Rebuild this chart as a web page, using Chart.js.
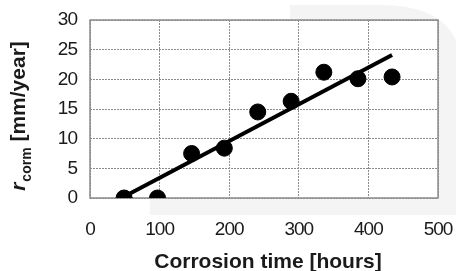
<!DOCTYPE html>
<html>
<head>
<meta charset="utf-8">
<script src="https://cdn.jsdelivr.net/npm/chart.js@4.4.1/dist/chart.umd.min.js"></script>
<style>
  html, body { margin: 0; padding: 0; background: #fff; }
  #wrap { width: 456px; height: 271px; }
</style>
</head>
<body>
<div id="wrap"><canvas id="corrChart"></canvas></div>
<script>
// measured points
const timeHours = [49, 97, 146, 193, 241, 289, 336, 385, 434];
const corrRate = [0, 0, 7.5, 8.4, 14.5, 16.3, 21.2, 20.1, 20.4];

// fitted trend line (end points)
const trendTime = [50, 434];
const trendRate = [0.3, 24.1];

const xTicks = [0, 100, 200, 300, 400, 500];
const yTicks = [0, 5, 10, 15, 20, 25, 30];

const xTitle = "Corrosion time [hours]";

const FONT = "'Liberation Sans', Arial, sans-serif";

// ==========================
// background, frame, titles
// ==========================

const backdropPlugin = {
    id: "backdrop",
    beforeDraw(chart) {
        const { ctx, chartArea: a } = chart;
        ctx.save();
        // faint watermark behind the figure
        ctx.fillStyle = "#f4f4f4";
        ctx.beginPath();
        ctx.moveTo(150, 215);
        ctx.lineTo(456, 215);
        ctx.lineTo(456, 40);
        ctx.quadraticCurveTo(440, 5, 380, 5);
        ctx.lineTo(290, 5);
        ctx.lineTo(290, 20);
        ctx.lineTo(150, 20);
        ctx.closePath();
        ctx.fill();
        ctx.fillStyle = "#fff";
        ctx.fillRect(a.left, a.top, a.width, a.height);
        ctx.restore();
        // slightly tighter digits for the tick labels
        ctx.letterSpacing = "-1px";
    },
    beforeDatasetsDraw(chart) {
        const { ctx, chartArea: a } = chart;
        ctx.letterSpacing = "0px";
        ctx.save();
        ctx.strokeStyle = "#8c8c8c";
        ctx.lineWidth = 1.5;
        ctx.strokeRect(a.left, a.top, a.width, a.height);
        ctx.restore();
    }
};

const titlesPlugin = {
    id: "titles",
    afterDraw(chart) {
        const ctx = chart.ctx;
        const big = "bold 21px " + FONT;
        const bigIt = "italic bold 21px " + FONT;
        const small = "bold 14px " + FONT;
        ctx.save();
        ctx.letterSpacing = "0px";
        ctx.fillStyle = "#1a1a1a";
        ctx.textBaseline = "alphabetic";

        // x title
        ctx.font = big;
        ctx.textAlign = "center";
        ctx.fillText(xTitle, 268, 268);

        // y title with subscript
        ctx.textAlign = "left";
        ctx.translate(25, 116);
        ctx.rotate(-Math.PI / 2);
        ctx.font = bigIt;
        const w1 = ctx.measureText("r").width + 1;
        ctx.font = small;
        const w2 = ctx.measureText("corm").width;
        ctx.font = big;
        const w3 = ctx.measureText(" [mm/year]").width;
        let x = -(w1 + w2 + w3) / 2;
        ctx.font = bigIt;
        ctx.fillText("r", x, 0);
        x += w1;
        ctx.font = small;
        ctx.fillText("corm", x, 6);
        x += w2;
        ctx.font = big;
        ctx.fillText(" [mm/year]", x, 0);
        ctx.restore();
    }
};

new Chart(document.getElementById("corrChart"), {
    type: "scatter",
    data: {
        datasets: [
            {
                label: "measured",
                data: timeHours.map((t, i) => ({ x: t, y: corrRate[i] })),
                backgroundColor: "#000",
                borderColor: "#000",
                pointRadius: 8,
                pointHoverRadius: 8,
                showLine: false,
                order: 1
            },
            {
                label: "trend",
                data: trendTime.map((t, i) => ({ x: t, y: trendRate[i] })),
                borderColor: "#000",
                borderWidth: 4,
                pointRadius: 0,
                showLine: true,
                order: 2
            }
        ]
    },
    options: {
        responsive: true,
        maintainAspectRatio: false,
        animation: false,
        layout: { padding: { top: 20, right: 18, left: 0, bottom: 0 } },
        plugins: {
            legend: { display: false },
            tooltip: { enabled: false }
        },
        scales: {
            x: {
                type: "linear",
                min: 0,
                max: 500,
                afterBuildTicks: axis => { axis.ticks = xTicks.map(v => ({ value: v })); },
                afterFit: s => {
                    s.height = 73;
                    s.paddingLeft = 0;
                    s.paddingRight = 0;
                },
                grid: { color: "#8c8c8c", lineWidth: 1, drawTicks: false },
                border: { display: false, dash: [2, 1] },
                ticks: { font: { family: FONT, size: 19 }, color: "#1a1a1a", padding: 20, maxRotation: 0 }
            },
            y: {
                min: 0,
                max: 30,
                afterBuildTicks: axis => { axis.ticks = yTicks.map(v => ({ value: v })); },
                afterFit: s => {
                    s.width = 90;
                    s.paddingTop = 0;
                    s.paddingBottom = 0;
                },
                grid: { color: "#8c8c8c", lineWidth: 1, drawTicks: false },
                border: { display: false, dash: [2, 1] },
                ticks: { font: { family: FONT, size: 19 }, color: "#1a1a1a", padding: 13 }
            }
        }
    },
    plugins: [backdropPlugin, titlesPlugin]
});
</script>
</body>
</html>
